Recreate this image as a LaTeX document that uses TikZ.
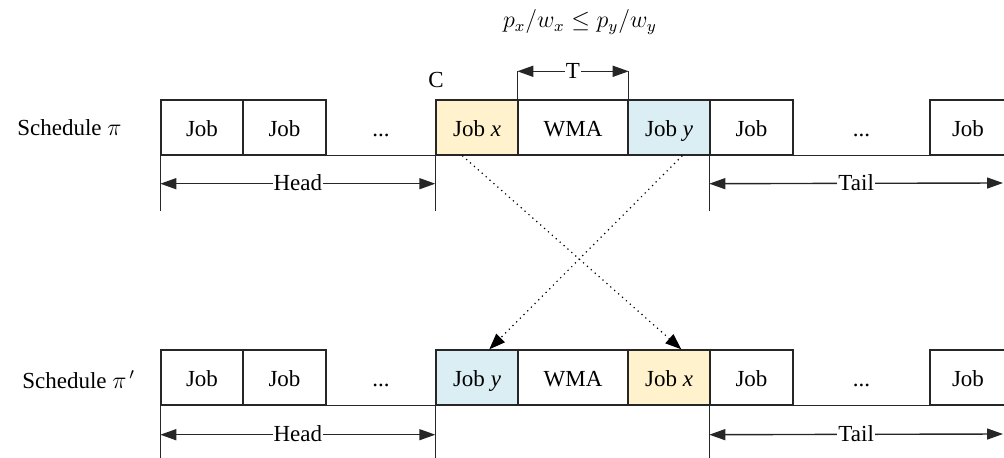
\documentclass[tikz,border=0pt]{standalone}
\usepackage{fontspec}
\setmainfont{Liberation Serif}
\usetikzlibrary{arrows.meta,calc}
\definecolor{jobx}{HTML}{FFF2CC}
\definecolor{joby}{HTML}{DAEEF3}
\begin{document}
\begin{tikzpicture}[x=0.5pt,y=-0.5pt,
  line width=0.7pt,
  every node/.style={font=\rmfamily\fontsize{11.5}{13}\selectfont},
  box/.style={draw=black!85, minimum height=27.5pt, inner sep=0pt, text height=9.5pt, text depth=0.5pt},
  plain/.style={minimum height=27.5pt, inner sep=0pt, text height=9.5pt, text depth=0.5pt},
  dim/.style={draw=black!85, {Triangle[length=8pt,width=5.5pt]}-{Triangle[length=8pt,width=5.5pt]}},
  tick/.style={draw=black!85},
  swap/.style={draw=black, dotted, line width=0.6pt, -{Triangle[length=8pt,width=6pt]}},
  lab/.style={fill=white, inner sep=0.5pt, text height=8pt, text depth=1pt}
]
\useasboundingbox (0,0) rectangle (1004,458);
\clip (0,0) rectangle (1004,458);

% ---------- top schedule ----------
\node[anchor=west] (s1) at (10,128) {Schedule~$\pi$};
\node[box, minimum width=41pt]   (t1) at (202,127.5) {Job};
\node[box, minimum width=41.5pt] (t2) at (284.5,127.5) {Job};
\node[plain, minimum width=55pt] (t3) at (381,127.5) {...};
\node[box, fill=jobx, minimum width=41pt] (tx) at (477,127.5) {Job \textit{x}};
\node[box, minimum width=55pt]   (tw) at (573,127.5) {WMA};
\node[box, fill=joby, minimum width=41pt] (ty) at (669,127.5) {Job \textit{y}};
\node[box, minimum width=41.5pt] (t6) at (751.5,127.5) {Job};
\node[plain, minimum width=68.5pt] (t7) at (861.5,127.5) {...};
\node[box, minimum width=38pt]   (t8) at (968,127.5) {Job};
\draw[tick] (t1.south west) -- (t8.south east);

% ticks below top
\coordinate (h1a) at ($(t1.south west)+(0,55)$);
\coordinate (h2a) at ($(tx.south west)+(0,55)$);
\coordinate (h3a) at ($(t6.south west)+(0,55)$);
\draw[tick] (t1.south west) -- (h1a);
\draw[tick] (tx.south west) -- (h2a);
\draw[tick] (t6.south west) -- (h3a);
\coordinate (hl) at ($(t1.south west)+(0,28)$);
\coordinate (hr) at ($(tx.south west)+(0,28)$);
\coordinate (tl) at ($(t6.south west)+(0,28)$);
\coordinate (tr) at (1003,183);
\draw[dim] (hl) -- (hr) node[lab, midway] (headA) {Head};
\draw[dim] (tl) -- (tr) node[lab, pos=0.5] (tailA) {Tail};

% T bracket
\coordinate (Tl) at ($(tw.north west)+(0,-28)$);
\coordinate (Tr) at ($(tw.north east)+(0,-28)$);
\draw[tick] (tw.north west) -- (Tl);
\draw[tick] (tw.north east) -- (Tr);
\draw[dim] (Tl) -- (Tr) node[lab, midway] (Tlab) {T};

\node (C) at (436,80) {C};
\node (cond) at (580,22) {$p_x/w_x \le p_y/w_y$};

% ---------- bottom schedule ----------
\node[anchor=west] (s2) at (15,380) {Schedule~$\pi^{\,\prime}$};
\node[box, minimum width=41pt]   (b1) at (202,377.5) {Job};
\node[box, minimum width=41.5pt] (b2) at (284.5,377.5) {Job};
\node[plain, minimum width=55pt] (b3) at (381,377.5) {...};
\node[box, fill=joby, minimum width=41pt] (by) at (477,377.5) {Job \textit{y}};
\node[box, minimum width=55pt]   (bw) at (573,377.5) {WMA};
\node[box, fill=jobx, minimum width=41pt] (bx) at (669,377.5) {Job \textit{x}};
\node[box, minimum width=41.5pt] (b6) at (751.5,377.5) {Job};
\node[plain, minimum width=68.5pt] (b7) at (861.5,377.5) {...};
\node[box, minimum width=38pt]   (b8) at (968,377.5) {Job};
\draw[tick] (b1.south west) -- (b8.south east);

\coordinate (g1a) at ($(b1.south west)+(0,60)$);
\coordinate (g2a) at ($(by.south west)+(0,60)$);
\coordinate (g3a) at ($(b6.south west)+(0,60)$);
\draw[tick] (b1.south west) -- (g1a);
\draw[tick] (by.south west) -- (g2a);
\draw[tick] (b6.south west) -- (g3a);
\coordinate (bhl) at ($(b1.south west)+(0,29)$);
\coordinate (bhr) at ($(by.south west)+(0,29)$);
\coordinate (btl) at ($(b6.south west)+(0,29)$);
\coordinate (btr) at (1003,434);
\draw[dim] (bhl) -- (bhr) node[lab, midway] (headB) {Head};
\draw[dim] (btl) -- (btr) node[lab, pos=0.5] (tailB) {Tail};

% ---------- swap arrows ----------
\draw[swap] ($(tx.south west)+(27,0)$) -- ($(bx.north west)+(54,0)$);
\draw[swap] ($(ty.south west)+(55,0)$) -- ($(by.north west)+(54,0)$);
\end{tikzpicture}
\end{document}
